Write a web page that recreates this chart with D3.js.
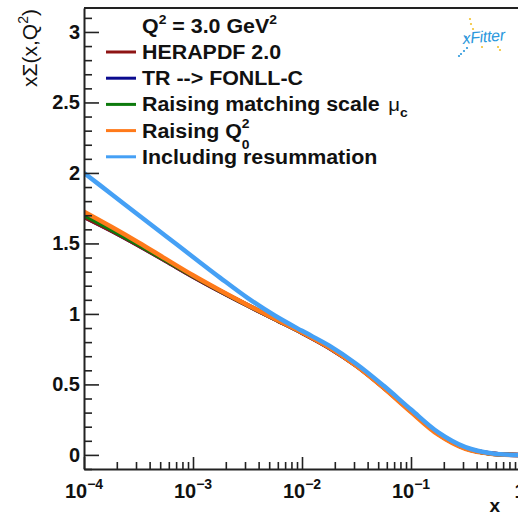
<!DOCTYPE html>
<html>
<head>
<meta charset="utf-8">
<script src="https://cdn.jsdelivr.net/npm/d3@7"></script>
<style>
  body { margin: 0; background: #fff; }
  svg { display: block; }
  text { font-family: "Liberation Sans", Arial, sans-serif; fill: #111; }
</style>
</head>
<body>
<div id="chart"></div>
<script>
// x grid (log spaced) and the five curves at Q^2 = 3 GeV^2
const xGrid = [0.0001, 0.000178, 0.000316, 0.000562, 0.001, 0.00178, 0.00316, 0.00562,
               0.01, 0.0178, 0.0316, 0.0562, 0.1, 0.178, 0.316, 0.562, 1];
const heraValues   = [1.69, 1.592, 1.487, 1.377, 1.266, 1.161, 1.061, 0.964, 0.867, 0.760, 0.632, 0.478, 0.31, 0.15, 0.048, 0.008, 0];
const trValues     = [1.69, 1.592, 1.487, 1.377, 1.266, 1.161, 1.061, 0.964, 0.867, 0.760, 0.632, 0.478, 0.31, 0.15, 0.048, 0.008, 0];
const muValues     = [1.70, 1.598, 1.491, 1.38, 1.269, 1.163, 1.062, 0.965, 0.868, 0.761, 0.633, 0.478, 0.309, 0.149, 0.046, 0.007, 0];
const q0Values     = [1.725, 1.618, 1.507, 1.39, 1.274, 1.166, 1.064, 0.966, 0.869, 0.761, 0.631, 0.474, 0.304, 0.143, 0.042, 0.006, 0];
const resumValues  = [2.0, 1.851, 1.702, 1.553, 1.404, 1.256, 1.114, 0.989, 0.88, 0.775, 0.645, 0.49, 0.322, 0.16, 0.055, 0.01, 0];

const seriesNames = ["TR --> FONLL-C", "HERAPDF 2.0", "Raising matching scale", "Raising Q0", "Including resummation"];
const xMajorTicks = [1e-4, 1e-3, 1e-2, 1e-1, 1];
const xTickBase = ["10", "10", "10", "10", "1"];
const xTickExps = ["\u22124", "\u22123", "\u22122", "\u22121", ""];
const yMajorTicks = [0, 0.5, 1, 1.5, 2, 2.5, 3];
const yTickLabels = ["0", "0.5", "1", "1.5", "2", "2.5", "3"];

const W = 518, H = 514;
const margin = { top: 8, left: 84, bottom: 45, right: -2 };
const x0 = margin.left, x1 = W - margin.right;
const y0 = H - margin.bottom, y1 = margin.top;

const svg = d3.select("#chart").append("svg")
    .attr("width", W).attr("height", H);

const xScale = d3.scaleLog().domain([1e-4, 1]).range([x0, x1]);
const yScale = d3.scaleLinear().domain([-0.1, 3.17]).range([y0, y1]);

// curves (draw order: bottom first)
const series = [
    { name: seriesNames[0], values: trValues,    color: "#0b0b8f", w: 4.5 },
    { name: seriesNames[1], values: heraValues,  color: "#8e1414", w: 4.5 },
    { name: seriesNames[2], values: muValues,    color: "#0d7a0d", w: 4 },
    { name: seriesNames[3], values: q0Values,    color: "#ff7a1a", w: 4.5 },
    { name: seriesNames[4], values: resumValues, color: "#45a0f5", w: 4.5 }
];

svg.append("clipPath").attr("id", "plotclip")
    .append("rect").attr("x", x0).attr("y", y1).attr("width", x1 - x0).attr("height", y0 - y1);

const line = d3.line()
    .x((d, i) => xScale(xGrid[i]))
    .y(d => yScale(d))
    .curve(d3.curveCatmullRom.alpha(0.5));

svg.append("g").attr("clip-path", "url(#plotclip)")
    .selectAll("path")
    .data(series)
    .enter()
    .append("path")
    .attr("d", d => line(d.values))
    .attr("fill", "none")
    .attr("stroke", d => d.color)
    .attr("stroke-width", d => d.w)
    .attr("stroke-linejoin", "round");

// frame top
svg.append("line")
    .attr("x1", x0).attr("x2", x1).attr("y1", y1).attr("y2", y1)
    .attr("stroke", "#222").attr("stroke-width", 2);

// y axis
const yMinor = d3.range(-1, 32).map(i => i / 10).filter(v => Math.abs(v * 2 - Math.round(v * 2)) > 1e-6);
const yAxisMinor = svg.append("g").attr("transform", `translate(${x0},0)`)
    .call(d3.axisLeft(yScale).tickValues(yMinor).tickSize(-8).tickFormat(""));
yAxisMinor.select(".domain").remove();

const yAxis = svg.append("g").attr("transform", `translate(${x0},0)`)
    .call(d3.axisLeft(yScale).tickValues(yMajorTicks).tickSize(-15).tickSizeOuter(0).tickPadding(4)
        .tickFormat((d, i) => yTickLabels[i]));
yAxis.select(".domain").attr("stroke-width", 2).attr("stroke", "#222");
yAxis.selectAll(".tick line").attr("stroke-width", 1.6).attr("stroke", "#222");
yAxisMinor.selectAll(".tick line").attr("stroke-width", 1.6).attr("stroke", "#222");
yAxis.selectAll("text")
    .attr("font-size", 20).attr("font-weight", "bold")
    .attr("font-family", "Liberation Sans, Arial, sans-serif").attr("fill", "#111");

// x axis
const xMinor = [];
for (let e = -4; e < 0; e++) for (let k = 2; k <= 9; k++) xMinor.push(k * Math.pow(10, e));
const xAxisMinor = svg.append("g").attr("transform", `translate(0,${y0})`)
    .call(d3.axisBottom(xScale).tickValues(xMinor).tickSize(-7).tickFormat(""));
xAxisMinor.select(".domain").remove();
xAxisMinor.selectAll(".tick line").attr("stroke-width", 1.6).attr("stroke", "#222");

const xAxis = svg.append("g").attr("transform", `translate(0,${y0})`)
    .call(d3.axisBottom(xScale).tickValues(xMajorTicks).tickSize(-12).tickSizeOuter(0).tickFormat(""));
xAxis.select(".domain").attr("stroke-width", 2).attr("stroke", "#222");
xAxis.selectAll(".tick line").attr("stroke-width", 1.6).attr("stroke", "#222");

const xLab = svg.append("g").selectAll("text")
    .data(xMajorTicks)
    .enter()
    .append("text")
    .attr("x", d => xScale(d))
    .attr("y", 498)
    .attr("text-anchor", "middle")
    .attr("font-size", 20)
    .attr("font-weight", "bold");
xLab.append("tspan").text((d, i) => xTickBase[i]);
xLab.append("tspan").attr("dy", -9).attr("font-size", 14).text((d, i) => xTickExps[i]);

// axis titles
svg.append("text")
    .attr("x", 500).attr("y", 512)
    .attr("text-anchor", "end")
    .attr("font-size", 19).attr("font-weight", "bold")
    .text("x");

const yt = svg.append("text")
    .attr("transform", "translate(37,9) rotate(-90)")
    .attr("text-anchor", "end")
    .attr("font-size", 21)
    .attr("fill", "#222");
yt.append("tspan").text("x\u03A3(x,Q");
yt.append("tspan").attr("font-size", 14).attr("dy", -9).text("2");
yt.append("tspan").attr("dy", 9).text(")");

// legend
const legendX = 142;
const sx = 1.07;
const head = svg.append("text")
    .attr("transform", `translate(${legendX},33) scale(${sx},1)`)
    .attr("font-size", 20).attr("font-weight", "bold");
head.append("tspan").text("Q");
head.append("tspan").attr("font-size", 13).attr("dy", -9).text("2");
head.append("tspan").attr("dy", 9).text(" = 3.0 GeV");
head.append("tspan").attr("font-size", 13).attr("dy", -9).text("2");

const legendOrder = [1, 0, 2, 3, 4];
legendOrder.forEach((si, k) => {
    const s = series[si];
    const yl = 52 + k * 26.2;
    svg.append("line")
        .attr("x1", 106).attr("x2", 136).attr("y1", yl).attr("y2", yl)
        .attr("stroke", s.color).attr("stroke-width", 3);
    const t = svg.append("text")
        .attr("transform", `translate(${legendX},${yl + 7}) scale(${sx},1)`)
        .attr("font-size", 20).attr("font-weight", "bold");
    if (si === 2) {
        t.append("tspan").text("Raising matching scale");
        t.append("tspan").attr("dx", 8).attr("font-weight", "normal").attr("font-size", 19).text("\u03BC");
        t.append("tspan").attr("font-size", 13).attr("dy", 6).text("c");
    } else if (si === 3) {
        t.append("tspan").text("Raising Q");
        t.append("tspan").attr("font-size", 13).attr("dy", -10).text("2");
        t.append("tspan").attr("font-size", 13).attr("dx", -7.2).attr("dy", 21).text("0");
    } else {
        t.text(s.name);
    }
});

// xFitter logo
const logo = svg.append("g");
logo.append("text")
    .attr("transform", "translate(463,44) rotate(-5)")
    .attr("font-size", 16).attr("font-style", "italic")
    .attr("letter-spacing", -0.3)
    .style("fill", "#2a98dc")
    .text("xFitter");
[[470, 19, "#f2c230"], [471, 24, "#f2c230"], [473, 29, "#f2c230"], [482, 47, "#f2c230"], [498, 47, "#f2c230"], [500, 50, "#f2c230"],
 [467, 48, "#2a98dc"], [464, 51, "#2a98dc"], [461, 54, "#2a98dc"], [459, 56, "#2a98dc"], [466, 37, "#2a98dc"]]
    .forEach(p => logo.append("circle").attr("cx", p[0]).attr("cy", p[1]).attr("r", 1.1).attr("fill", p[2]));
</script>
</body>
</html>
